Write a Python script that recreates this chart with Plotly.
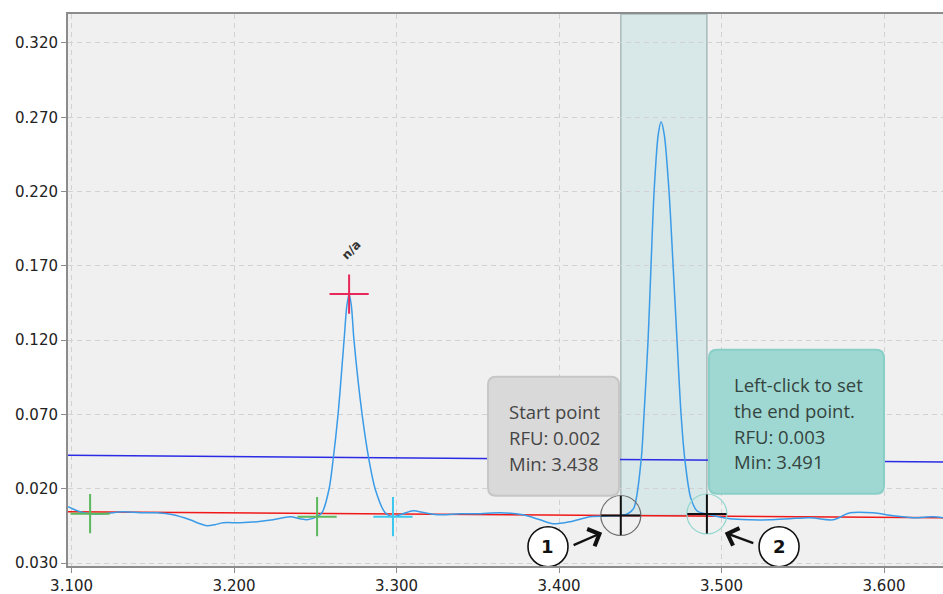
import plotly.graph_objects as go

# Electropherogram trace (time in min, signal in RFU)
time_min = [
    3.0978, 3.1052, 3.1114, 3.1206, 3.1317, 3.1422, 3.1526, 3.1625, 3.1729, 3.1791,
    3.1834, 3.1883, 3.1932, 3.2037, 3.2142, 3.2240, 3.2345, 3.2406, 3.2449, 3.2511,
    3.2542, 3.2585, 3.2609, 3.2640, 3.2677, 3.2694, 3.2708, 3.2722, 3.2738, 3.2788,
    3.2831, 3.2868, 3.2929, 3.2978, 3.3040, 3.3102, 3.3175, 3.3268, 3.3391, 3.3514,
    3.3637, 3.3778, 3.3883, 3.3963, 3.4068, 3.4191, 3.4314, 3.4380, 3.4420, 3.4460,
    3.4505, 3.4523, 3.4548, 3.4566, 3.4585, 3.4610, 3.4628, 3.4648, 3.4677, 3.4702,
    3.4726, 3.4751, 3.4775, 3.4810, 3.4850, 3.4910, 3.5052, 3.5175, 3.5298, 3.5422,
    3.5545, 3.5686, 3.5791, 3.5932, 3.6055, 3.6178, 3.6302, 3.6363,
]
rfu = [
    0.0079, 0.0045, 0.0032, 0.0032, 0.0045, 0.0038, 0.0038, 0.0025, -0.0009, -0.0036,
    -0.0049, -0.0042, -0.0029, -0.0029, -0.0022, -0.0009, 0.0012, -0.0002, -0.0009, 0.0012,
    0.0040, 0.0200, 0.0390, 0.0700, 0.1200, 0.1430, 0.1510, 0.1430, 0.1200, 0.0700,
    0.0390, 0.0200, 0.0040, 0.0012, 0.0032, 0.0052, 0.0038, 0.0025, 0.0032, 0.0032,
    0.0038, 0.0025, -0.0009, -0.0036, -0.0022, 0.0012, 0.0018, 0.0020, 0.0030, 0.0070,
    0.0390, 0.0700, 0.1200, 0.1700, 0.2200, 0.2580, 0.2670, 0.2580, 0.2200, 0.1700,
    0.1200, 0.0700, 0.0390, 0.0140, 0.0050, 0.0030, -0.0002, -0.0009, -0.0009, -0.0002,
    0.0005, -0.0009, 0.0038, 0.0038, 0.0018, 0.0005, 0.0012, 0.0005,
]

# Baseline (red) and threshold (blue) lines
baseline_x = [3.0978, 3.6363]
baseline_y = [0.0045, 0.0005]
threshold_x = [3.0978, 3.6363]
threshold_y = [0.0425, 0.0380]

# Peak markers
peak_start_x = [3.1114, 3.2511]
peak_start_y = [0.0032, 0.0012]
peak_end_x = [3.2978]
peak_end_y = [0.0012]
apex_x = [3.2708]
apex_y = [0.1510]
apex_label = ["n/a"]

# Manual integration points
start_min, start_rfu = 3.438, 0.002
end_min, end_rfu = 3.491, 0.003

# Axis ticks
x_ticks = [3.1, 3.2, 3.3, 3.4, 3.5, 3.6]
x_ticktext = ["3.100", "3.200", "3.300", "3.400", "3.500", "3.600"]
y_ticks = [-0.03, 0.02, 0.07, 0.12, 0.17, 0.22, 0.27, 0.32]
y_ticktext = ["0.030", "0.020", "0.070", "0.120", "0.170", "0.220", "0.270", "0.320"]

X_RANGE = [3.0978, 3.6363]
Y_RANGE = [-0.0320, 0.3395]

fig = go.Figure()

fig.add_trace(go.Scatter(x=threshold_x, y=threshold_y, mode="lines",
                         line=dict(color="#2b2be6", width=1.5), hoverinfo="skip"))
fig.add_trace(go.Scatter(x=baseline_x, y=baseline_y, mode="lines",
                         line=dict(color="#f01818", width=1.5), hoverinfo="skip"))
fig.add_trace(go.Scatter(x=time_min, y=rfu, mode="lines",
                         line=dict(color="#3a9be8", width=1.5, shape="spline", smoothing=0.8)))

# peak start / end / apex crosses
fig.add_trace(go.Scatter(x=peak_start_x, y=peak_start_y, mode="markers",
                         marker=dict(symbol="cross-thin", size=28, color="#5cb85c",
                                     line=dict(color="#5cb85c", width=2))))
fig.add_trace(go.Scatter(x=peak_end_x, y=peak_end_y, mode="markers",
                         marker=dict(symbol="cross-thin", size=28, color="#3cc8ee",
                                     line=dict(color="#3cc8ee", width=2))))
fig.add_trace(go.Scatter(x=apex_x, y=apex_y, mode="markers",
                         marker=dict(symbol="cross-thin", size=28, color="#e8285a",
                                     line=dict(color="#e8285a", width=2))))

# selection circles and crosses at start/end points
fig.add_trace(go.Scatter(x=[start_min], y=[start_rfu], mode="markers",
                         marker=dict(symbol="circle-open", size=40, color="#6e6e6e",
                                     line=dict(color="#6e6e6e", width=1.2))))
fig.add_trace(go.Scatter(x=[end_min], y=[end_rfu], mode="markers",
                         marker=dict(symbol="circle-open", size=40, color="#8fd6cf",
                                     line=dict(color="#8fd6cf", width=1.2))))
fig.add_trace(go.Scatter(x=[start_min, end_min], y=[start_rfu, end_rfu], mode="markers",
                         marker=dict(symbol="cross-thin", size=28, color="#111111",
                                     line=dict(color="#111111", width=2))))

shapes = []
# integration window
shapes.append(dict(type="rect", xref="x", yref="y", x0=start_min, x1=end_min,
                   y0=start_rfu, y1=Y_RANGE[1], layer="below",
                   fillcolor="rgba(170,214,214,0.34)",
                   line=dict(color="rgba(150,170,170,0.75)", width=1.5)))


def rounded_rect(x0, x1, y0, y1, rx, ry):
    return (f"M {x0+rx},{y1} L {x1-rx},{y1} Q {x1},{y1} {x1},{y1-ry} "
            f"L {x1},{y0+ry} Q {x1},{y0} {x1-rx},{y0} L {x0+rx},{y0} "
            f"Q {x0},{y0} {x0},{y0+ry} L {x0},{y1-ry} Q {x0},{y1} {x0+rx},{y1} Z")


# tooltip boxes
shapes.append(dict(type="path", xref="x", yref="y", layer="above",
                   path=rounded_rect(3.3563, 3.4369, 0.0153, 0.0954, 0.0050, 0.0054),
                   fillcolor="#d9d9d9", line=dict(color="#c6c6c6", width=2)))
shapes.append(dict(type="path", xref="x", yref="y", layer="above",
                   path=rounded_rect(3.4923, 3.6000, 0.0166, 0.1135, 0.0050, 0.0054),
                   fillcolor="#9fd8d2", line=dict(color="#89cfc7", width=2)))

# numbered callout circles
for cx in (3.3932, 3.5354):
    shapes.append(dict(type="circle", xref="x", yref="y", xsizemode="pixel",
                       ysizemode="pixel", xanchor=cx, yanchor=-0.0190,
                       x0=-20, x1=20, y0=-20, y1=20, layer="above",
                       fillcolor="white", line=dict(color="#111111", width=1.6)))

annotations = []
start_lines = ["Start point", f"RFU: {start_rfu:.3f}", f"Min: {start_min:.3f}"]
start_y = [0.0718, 0.0543, 0.0368]
for t, yv in zip(start_lines, start_y):
    annotations.append(dict(x=3.3680, y=yv, xref="x", yref="y",
                            text=t, showarrow=False, xanchor="left", yanchor="middle",
                            font=dict(family="Open Sans, Noto Sans, sans-serif", size=18.5,
                                      color="#454545")))
end_lines = ["Left-click to set", "the end point.", f"RFU: {end_rfu:.3f}", f"Min: {end_min:.3f}"]
end_y = [0.0900, 0.0725, 0.0550, 0.0382]
for t, yv in zip(end_lines, end_y):
    annotations.append(dict(x=3.5064, y=yv, xref="x", yref="y",
                            text=t, showarrow=False, xanchor="left", yanchor="middle",
                            font=dict(family="Open Sans, Noto Sans, sans-serif", size=18.5,
                                      color="#35443f")))

# apex label
annotations.append(dict(x=3.2722, y=0.1805, xref="x", yref="y", text=f"<b>{apex_label[0]}</b>",
                        showarrow=False, textangle=-45,
                        font=dict(family="DejaVu Sans, sans-serif", size=12, color="#333333")))

# callout numbers and arrows
for cx, label in ((3.3932, "1"), (3.5354, "2")):
    annotations.append(dict(x=cx, y=-0.0190, xref="x", yref="y", text=f"<b>{label}</b>",
                            showarrow=False,
                            font=dict(family="DejaVu Sans, sans-serif", size=18, color="#111111")))
annotations.append(dict(x=3.4265, y=-0.0096, xref="x", yref="y", text="",
                        showarrow=True, ax=-30, ay=13, arrowhead=4, arrowsize=1.5,
                        arrowwidth=2.4, arrowcolor="#111111"))
annotations.append(dict(x=3.5020, y=-0.0096, xref="x", yref="y", text="",
                        showarrow=True, ax=30, ay=11, arrowhead=4, arrowsize=1.5,
                        arrowwidth=2.4, arrowcolor="#111111"))

tick_font = dict(family="DejaVu Sans, sans-serif", size=15, color="#222222")
fig.update_layout(
    width=943, height=594,
    margin=dict(l=68, r=0, t=14, b=28),
    paper_bgcolor="white",
    plot_bgcolor="#f0f0f0",
    showlegend=False,
    shapes=shapes,
    annotations=annotations,
    xaxis=dict(range=X_RANGE, tickvals=x_ticks, ticktext=x_ticktext,
               showgrid=True, gridcolor="#d2d2d2", griddash="5px,4px", gridwidth=1,
               zeroline=False, showline=True, linecolor="#8c8c8c", linewidth=2,
               mirror=True, ticks="outside", ticklen=5, tickcolor="#8c8c8c",
               tickfont=tick_font),
    yaxis=dict(range=Y_RANGE, tickvals=y_ticks, ticktext=y_ticktext,
               showgrid=True, gridcolor="#d2d2d2", griddash="5px,4px", gridwidth=1,
               zeroline=False, showline=True, linecolor="#8c8c8c", linewidth=2,
               ticks="outside", ticklen=5, tickcolor="#8c8c8c",
               tickfont=tick_font),
)

fig.write_html("out.html")
